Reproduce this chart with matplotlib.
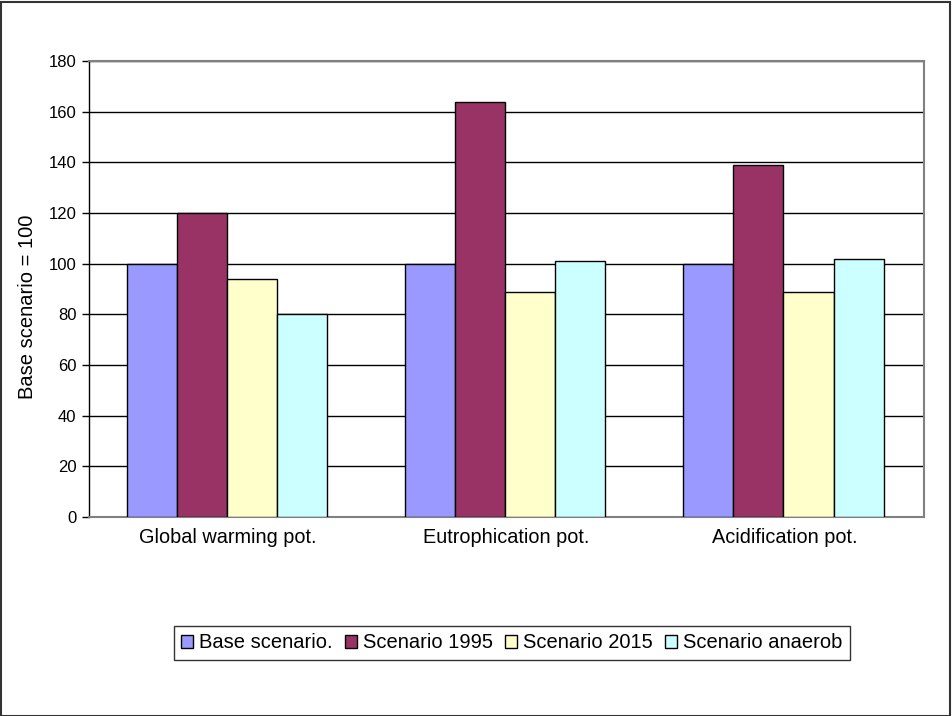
import matplotlib.pyplot as plt
import numpy as np
from matplotlib.patches import Rectangle

plt.rcParams['font.family'] = ['Liberation Sans', 'DejaVu Sans']

categories = ["Global warming pot.", "Eutrophication pot.", "Acidification pot."]
series_names = ["Base scenario.", "Scenario 1995", "Scenario 2015", "Scenario anaerob"]
base = [100, 100, 100]
s1995 = [120, 164, 139]
s2015 = [94, 89, 89]
anaerob = [80, 101, 102]
colors = ["#9999FF", "#993366", "#FFFFCC", "#CCFFFF"]

fig = plt.figure(figsize=(9.52, 7.16), dpi=100)
ax = fig.add_axes([89 / 952, 1 - 517 / 716, (924 - 89) / 952, (517 - 61) / 716])

x = np.arange(len(categories))
width = 0.18
for i, (vals, name, col) in enumerate(zip([base, s1995, s2015, anaerob], series_names, colors)):
    ax.bar(x + (i - 1.5) * width - 0.005, vals, width, color=col, edgecolor="black",
           linewidth=1.0, label=name, zorder=3)

ax.set_xlim(-0.5, 2.5)
ax.set_ylim(0, 180)
ax.set_yticks(range(0, 181, 20))
ax.set_xticks(x)
ax.set_xticklabels(categories, fontsize=14.3)
ax.tick_params(axis="x", length=0, pad=8)
ax.tick_params(axis="y", length=5, width=1, labelsize=12, direction="out", pad=4)
ax.yaxis.grid(True, color="black", linewidth=1.0, zorder=0)
ax.set_axisbelow(True)

for side in ["top", "right", "bottom"]:
    ax.spines[side].set_color("#808080")
    ax.spines[side].set_linewidth(1.5)
ax.spines["left"].set_color("black")
ax.spines["left"].set_linewidth(1.0)

ax.set_ylabel("Base scenario = 100", fontsize=14.5)
ax.yaxis.set_label_coords(-0.062, 0.46)

leg = fig.legend(loc="center", bbox_to_anchor=(512 / 952, 1 - 643 / 716), ncol=4,
                 fontsize=14.5, frameon=True, fancybox=False, edgecolor="black",
                 handlelength=0.6, handleheight=0.6, handletextpad=0.3,
                 columnspacing=0.6, borderpad=0.35)
leg.get_frame().set_linewidth(1.0)

# outer chart border
fig.patches.append(Rectangle((0.5 / 952, 0.5 / 716), 949 / 952, 714 / 716,
                             transform=fig.transFigure, fill=False,
                             edgecolor="#333333", linewidth=1.5))

fig.savefig("out.png", dpi=100)
